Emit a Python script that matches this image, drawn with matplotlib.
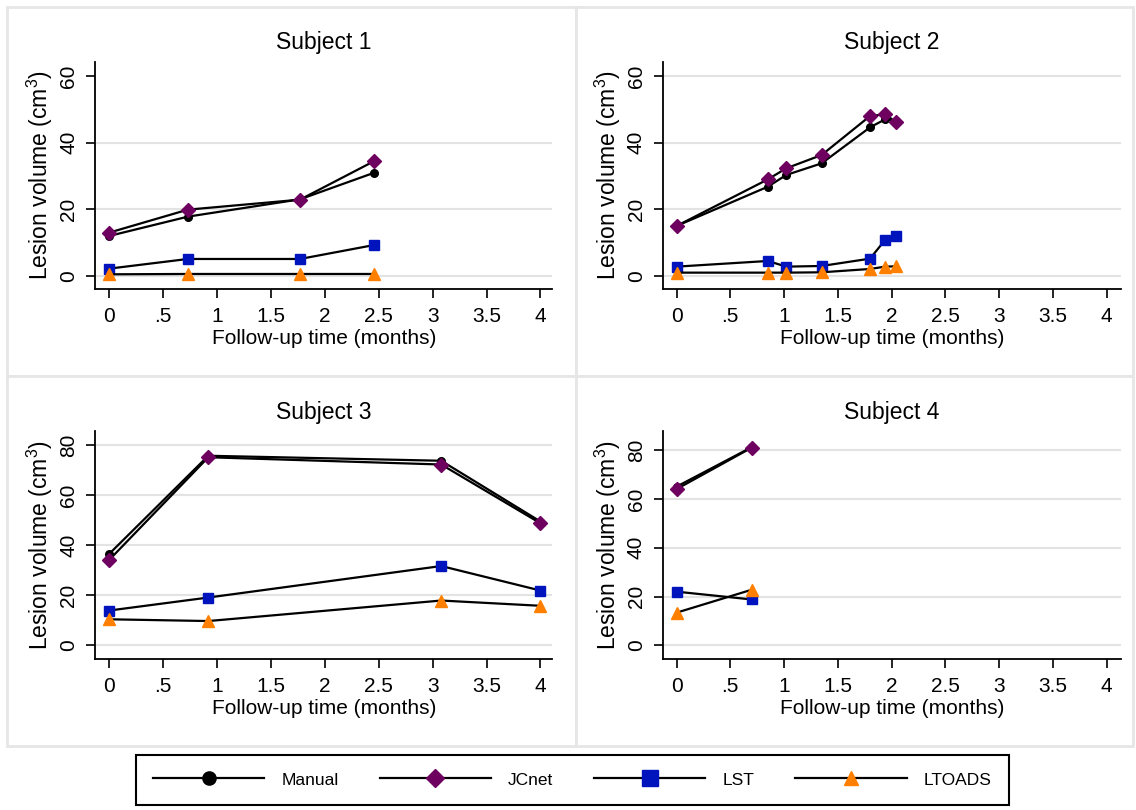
import matplotlib
matplotlib.use("Agg")
import matplotlib.pyplot as plt
from matplotlib.lines import Line2D
from matplotlib.patches import Rectangle

plt.rcParams['font.family'] = ['Liberation Sans', 'DejaVu Sans']
plt.rcParams['mathtext.fontset'] = 'custom'
plt.rcParams['mathtext.rm'] = 'Liberation Sans'
plt.rcParams['mathtext.it'] = 'Liberation Sans'

# follow-up times (months) and lesion volumes (cm^3) per subject
s1_time = [0, 0.73, 1.77, 2.46]
s1_manual = [12.0, 17.8, 23.0, 31.0]
s1_jcnet = [13.0, 19.9, 22.9, 34.5]
s1_lst = [2.2, 5.1, 5.1, 9.3]
s1_ltoads = [0.5, 0.6, 0.6, 0.6]

s2_time = [0, 0.85, 1.02, 1.35, 1.80, 1.94, 2.04]
s2_manual = [15.0, 26.8, 30.3, 33.8, 44.6, 47.0, 46.5]
s2_jcnet = [15.0, 29.0, 32.3, 36.3, 48.0, 48.5, 46.2]
s2_lst = [2.8, 4.5, 2.8, 3.0, 5.2, 10.8, 12.1]
s2_ltoads = [1.0, 1.0, 1.0, 1.1, 2.1, 2.8, 2.9]

s3_time = [0, 0.92, 3.08, 4.0]
s3_manual = [36.5, 75.8, 73.8, 49.5]
s3_jcnet = [34.1, 75.2, 72.3, 48.8]
s3_lst = [13.9, 19.1, 31.7, 21.9]
s3_ltoads = [10.4, 9.7, 17.9, 15.8]

s4_time = [0, 0.70]
s4_manual = [65.0, 81.2]
s4_jcnet = [64.0, 81.0]
s4_lst = [22.0, 18.8]
s4_ltoads = [13.4, 22.8]

titles = ["Subject 1", "Subject 2", "Subject 3", "Subject 4"]
methods = ["Manual", "JCnet", "LST", "LTOADS"]
x_ticks = [0, 0.5, 1, 1.5, 2, 2.5, 3, 3.5, 4]
x_tick_labels = ["0", ".5", "1", "1.5", "2", "2.5", "3", "3.5", "4"]

subjects = [
    (s1_time, [s1_manual, s1_jcnet, s1_lst, s1_ltoads]),
    (s2_time, [s2_manual, s2_jcnet, s2_lst, s2_ltoads]),
    (s3_time, [s3_manual, s3_jcnet, s3_lst, s3_ltoads]),
    (s4_time, [s4_manual, s4_jcnet, s4_lst, s4_ltoads]),
]

# marker style per method: (marker, colour, size in plot, size in legend)
styles = [("o", "black", 5.5, 9.5),
          ("D", "#6e0060", 7.4, 9.0),
          ("s", "#0014be", 7.4, 11.0),
          ("^", "#ff8000", 8.5, 10.5)]

W, H = 1136, 810
fig = plt.figure(figsize=(W / 100, H / 100), dpi=100)


def fx(px):
    return px / W


def fy(py):
    return 1 - py / H


# panel backgrounds with faint borders
panels = [(7, 7, 576, 376), (576, 7, 1133, 376), (7, 376, 576, 746), (576, 376, 1133, 746)]
for x0, y0, x1, y1 in panels:
    fig.patches.append(Rectangle((fx(x0), fy(y1)), fx(x1 - x0), (y1 - y0) / H,
                                 transform=fig.transFigure, facecolor="white",
                                 edgecolor="#e6e6e6", lw=2, zorder=-5))

# axes boxes in pixels: left, right, top, bottom
boxes = [(95.4, 552.3, 61.7, 289.3), (663.1, 1120.5, 61.7, 289.3),
         (95.4, 552.3, 431, 659.3), (663.1, 1120.5, 431, 659.3)]
ylims = [(-4.0, 64.3), (-4.0, 64.3), (-5.6, 85.7), (-5.7, 87.8)]
xlims = [(-0.127, 4.11), (-0.125, 4.13), (-0.127, 4.11), (-0.125, 4.13)]
y_ticks = [[0, 20, 40, 60], [0, 20, 40, 60], [0, 20, 40, 60, 80], [0, 20, 40, 60, 80]]

for i, (l, r, t, b) in enumerate(boxes):
    ax = fig.add_axes([fx(l), fy(b), fx(r - l), (b - t) / H])
    ax.set_facecolor("none")
    times, series = subjects[i]
    for vals, (mk, col, ms, _) in zip(series, styles):
        ax.plot(times, vals, color="black", lw=1.6, marker=mk, markersize=ms,
                markerfacecolor=col, markeredgecolor=col, zorder=3)

    ax.set_xlim(*xlims[i])
    ax.set_ylim(*ylims[i])
    ax.set_xticks(x_ticks)
    ax.set_xticklabels(x_tick_labels)
    ax.set_yticks(y_ticks[i])
    # horizontal grid (subject 1 has none at the top tick)
    grid_vals = y_ticks[i][:-1] if i == 0 else y_ticks[i]
    for g in grid_vals:
        ax.axhline(g, color="#e3e3e3", lw=1.5, zorder=1)

    for side in ["top", "right"]:
        ax.spines[side].set_visible(False)
    for side in ["left", "bottom"]:
        ax.spines[side].set_linewidth(1.3)
    ax.tick_params(axis="both", direction="out", length=6.5, width=1.2,
                   labelsize=15)
    ax.tick_params(axis="x", pad=6.5)
    ax.tick_params(axis="y", pad=6)
    plt.setp(ax.get_yticklabels(), rotation=90, va="center")

    ax.set_title(titles[i], fontsize=16.5, pad=9)
    ax.set_xlabel("Follow-up time (months)", fontsize=15, labelpad=2)
    ax.set_ylabel("Lesion volume (cm$^3$)", fontsize=16.5, labelpad=3)

# legend at the bottom
handles = [Line2D([], [], color="black", lw=1.6, marker=mk, markersize=lms,
                  markerfacecolor=col, markeredgecolor=col)
           for mk, col, _, lms in styles]
leg = fig.legend(handles, methods, loc="upper center", ncol=4,
                 bbox_to_anchor=(fx(572.5), fy(755)), fontsize=12.5,
                 handlelength=6.4, handletextpad=1.0, columnspacing=2.35,
                 borderpad=1.0, borderaxespad=0, fancybox=False,
                 frameon=True, framealpha=1)
leg.get_frame().set_edgecolor("black")
leg.get_frame().set_linewidth(1.5)

fig.savefig("out.png", dpi=100, facecolor="white")
